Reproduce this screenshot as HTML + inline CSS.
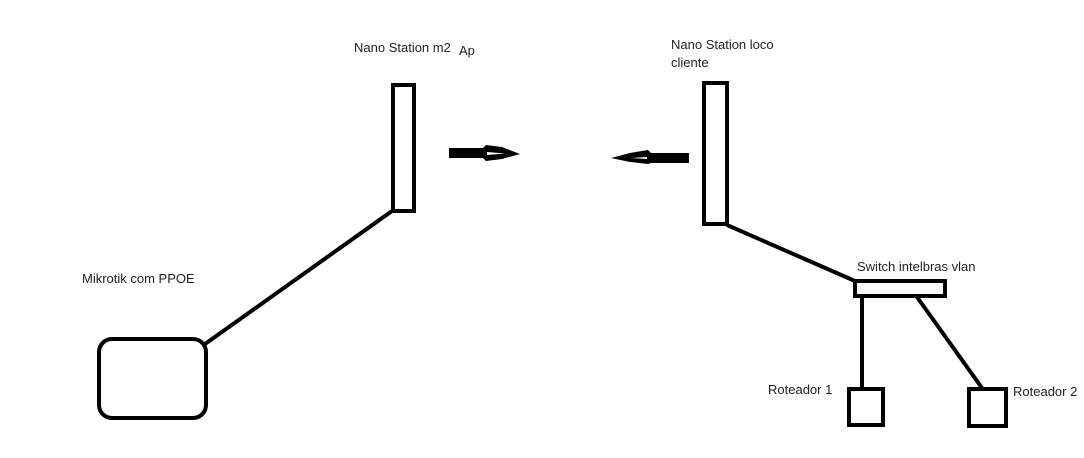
<!DOCTYPE html>
<html><head><style>
html,body{margin:0;padding:0;background:#fff;width:1084px;height:458px;overflow:hidden}
text{font-family:"Liberation Sans","DejaVu Sans",sans-serif;font-size:13px;fill:#222}
</style></head><body>
<svg width="1084" height="458" xmlns="http://www.w3.org/2000/svg">
<g fill="none" stroke="#000" stroke-width="4">
<rect x="393" y="85" width="21" height="126"/>
<rect x="704" y="83" width="23" height="141"/>
<rect x="855" y="281" width="90" height="15"/>
<rect x="849" y="389" width="34" height="36"/>
<rect x="969" y="389" width="37" height="37"/>
<rect x="99" y="339" width="107" height="79" rx="13"/>
<line x1="392" y1="211" x2="205" y2="344"/>
<line x1="727" y1="225" x2="855" y2="281"/>
<line x1="862" y1="297" x2="862" y2="389"/>
<line x1="917" y1="297" x2="982" y2="388"/>
</g>
<!-- arrows -->
<path d="M449 148 L483 148 L486 145 L502 147 L520 154 L502 159 L486 161 L483 158 L449 158 Z" fill="#000"/>
<path d="M487 152 L505 153.5 L487 155 Z" fill="#fff"/>
<path d="M689 153 L651 153 L648 150 L630 153 L611 158 L630 162 L648 164 L651 163 L689 163 Z" fill="#000"/>
<path d="M647 157 L631 158 L647 159 Z" fill="#fff"/>
<text x="354" y="52">Nano Station m2</text>
<text x="459" y="55">Ap</text>
<text x="671" y="49">Nano Station loco</text>
<text x="671" y="67">cliente</text>
<text x="82" y="283">Mikrotik com PPOE</text>
<text x="857" y="271">Switch intelbras vlan</text>
<text x="768" y="394">Roteador 1</text>
<text x="1013" y="396">Roteador 2</text>
</svg>
</body></html>
